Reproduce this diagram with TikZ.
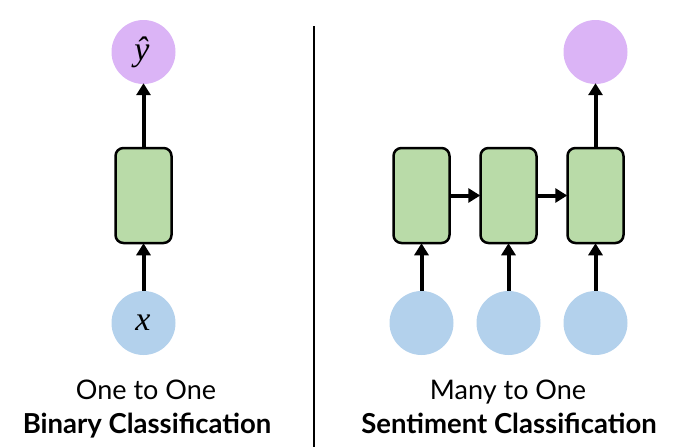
\documentclass[tikz,border=0pt]{standalone}
\usepackage{fontspec}
\setmainfont{Lato}
\newfontfamily\varfont{Liberation Serif}
\usetikzlibrary{arrows.meta}
\definecolor{cellgreen}{HTML}{B9DBA8}
\definecolor{outpurple}{HTML}{DBB4F6}
\definecolor{inblue}{HTML}{B3D1EC}
\tikzset{
  cell/.style={draw=black, line width=2.5pt, fill=cellgreen, rounded corners=8pt, minimum width=56pt, minimum height=95pt, inner sep=0pt},
  outnode/.style={circle, fill=outpurple, minimum size=64pt, inner sep=0pt, font=\varfont\itshape\fontsize{34}{40}\selectfont},
  innode/.style={circle, fill=inblue, minimum size=64pt, inner sep=0pt, font=\varfont\itshape\fontsize{34}{40}\selectfont},
  conn/.style={line width=4pt, -{Triangle[length=12pt,width=14pt]}, shorten >=-1pt},
  lbl/.style={font=\fontsize{27}{32}\selectfont, inner sep=0pt, anchor=base},
  blbl/.style={font=\fontsize{27.5}{32}\selectfont\bfseries, inner sep=0pt, anchor=base}
}
\begin{document}
\begin{tikzpicture}[x=1pt,y=-1pt]
\useasboundingbox (0,0) rectangle (680,447);
% left
\node[outnode] (yl) at (143.5,52) {};
\node[anchor=base, inner sep=0pt, font=\varfont\itshape\fontsize{34}{40}\selectfont] (yllabel) at (142,60) {ŷ};
\node[cell] (cl) at (143.5,195.5) {};
\node[innode] (xl) at (143.5,323) {};
\node[anchor=base, inner sep=0pt, font=\varfont\itshape\fontsize{34}{40}\selectfont] (xllabel) at (143,330) {x};
\draw[conn] (cl.north) -- (yl.south);
\draw[conn] (xl.north) -- (cl.south);
\node[lbl] (t1) at (146,399) {One to One};
\node[blbl] (t2) at (147,433) {Binary Classification};
% divider
\coordinate (dtop) at (314,26);
\coordinate (dbot) at (314,447);
\draw[line width=2.5pt] (dtop) -- (dbot);
% right
\node[cell] (c1) at (421.5,195.5) {};
\node[cell] (c2) at (508.5,195.5) {};
\node[cell] (c3) at (595.5,195.5) {};
\node[outnode] (yr) at (595.5,52) {};
\node[innode] (x1) at (421.5,323) {};
\node[innode] (x2) at (508.5,323) {};
\node[innode] (x3) at (595.5,323) {};
\draw[conn] (c3.north) -- (yr.south);
\draw[conn] (c1.east) -- (c2.west);
\draw[conn] (c2.east) -- (c3.west);
\draw[conn] (x1.north) -- (c1.south);
\draw[conn] (x2.north) -- (c2.south);
\draw[conn] (x3.north) -- (c3.south);
\node[lbl] (t3) at (508,399) {Many to One};
\node[blbl] (t4) at (509,433) {Sentiment Classification};
\end{tikzpicture}
\end{document}
